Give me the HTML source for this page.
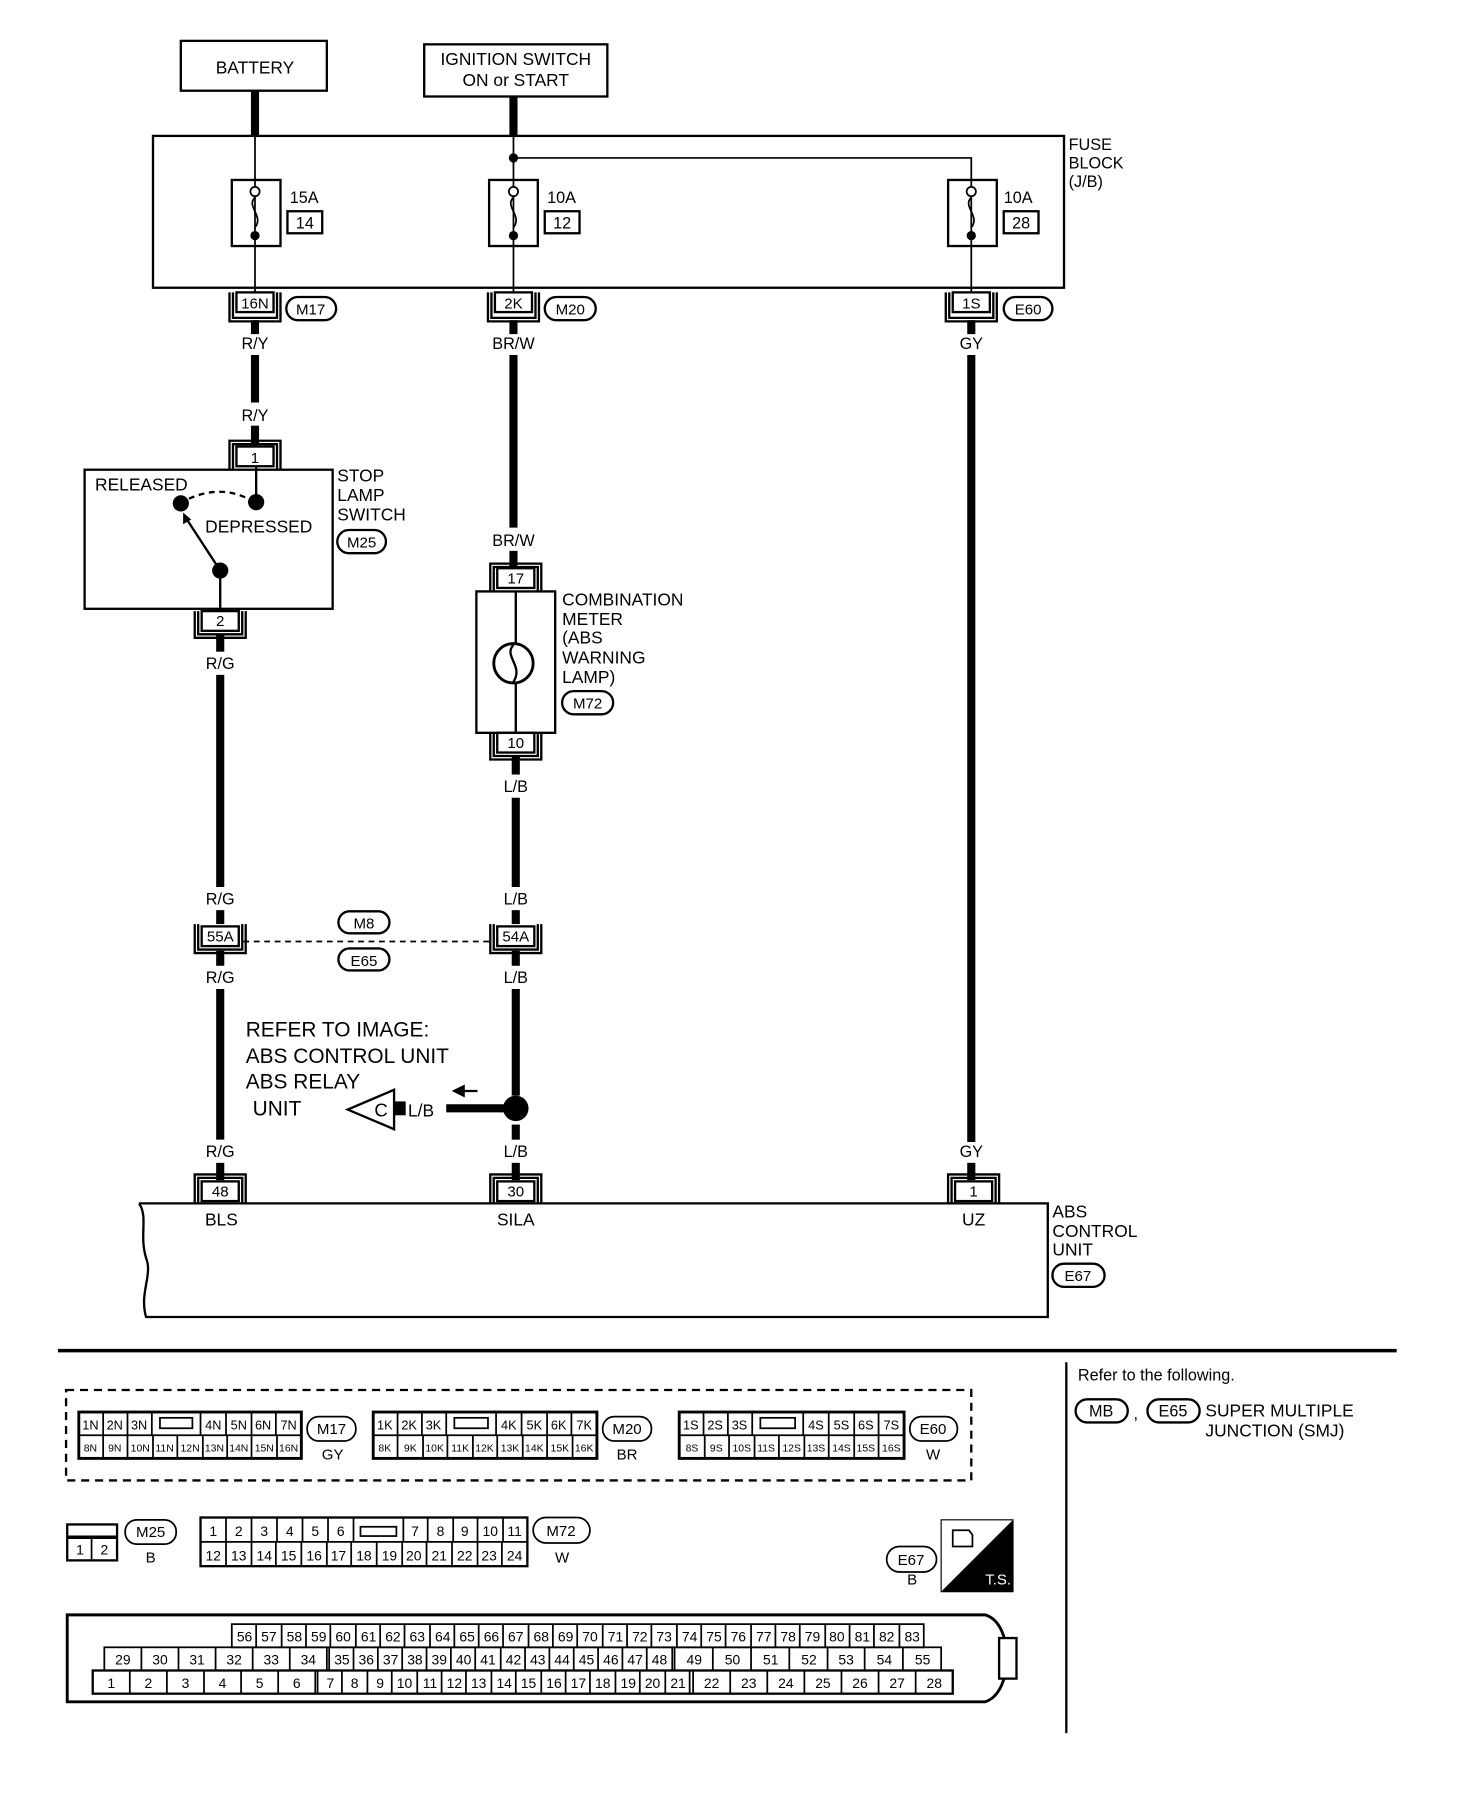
<!DOCTYPE html>
<html><head><meta charset="utf-8"><style>
html,body{margin:0;padding:0;background:#fff}
svg{display:block}
text{font-family:"Liberation Sans",sans-serif;fill:#000}
</style></head><body>
<svg width="1472" height="1818" viewBox="0 0 1270 1568" xmlns="http://www.w3.org/2000/svg">
<g fill="none" stroke="#000" stroke-width="2">
<rect x="156" y="35" width="126" height="43"/>
<rect x="366" y="38" width="158" height="45"/>
<rect x="132" y="117" width="786" height="131"/>
<rect x="200" y="155" width="42" height="57"/>
<rect x="422" y="155" width="42" height="57"/>
<rect x="818" y="155" width="42" height="57"/>
<rect x="248" y="182" width="30" height="19"/>
<rect x="470" y="182" width="30" height="19"/>
<rect x="866" y="182" width="30" height="19"/>
</g>
<g stroke="#000" stroke-width="7">
<line x1="220" y1="78" x2="220" y2="117"/>
<line x1="443" y1="83" x2="443" y2="117"/>
<line x1="220" y1="276" x2="220" y2="288"/><line x1="220" y1="306" x2="220" y2="347"/><line x1="220" y1="367" x2="220" y2="382"/>
<line x1="443" y1="276" x2="443" y2="288"/><line x1="443" y1="306" x2="443" y2="455"/><line x1="443" y1="475" x2="443" y2="490"/>
<line x1="838" y1="276" x2="838" y2="288"/><line x1="838" y1="306" x2="838" y2="985"/><line x1="838" y1="1003" x2="838" y2="1018"/>
<line x1="190" y1="548" x2="190" y2="562"/><line x1="190" y1="582" x2="190" y2="765"/><line x1="190" y1="785" x2="190" y2="797"/>
<line x1="190" y1="820" x2="190" y2="833"/><line x1="190" y1="853" x2="190" y2="983"/><line x1="190" y1="1003" x2="190" y2="1018"/>
<line x1="445" y1="652" x2="445" y2="668"/><line x1="445" y1="688" x2="445" y2="765"/><line x1="445" y1="785" x2="445" y2="797"/>
<line x1="445" y1="820" x2="445" y2="833"/><line x1="445" y1="853" x2="445" y2="945"/><line x1="445" y1="970" x2="445" y2="983"/><line x1="445" y1="1003" x2="445" y2="1018"/>
<line x1="385" y1="956" x2="435" y2="956"/>
</g>
<rect x="340" y="950" width="10" height="12" fill="#000"/>
<circle cx="445" cy="956" r="11" fill="#000"/>
<path d="M392 941 L412 941 M392 941 L400 937 L400 945 Z" stroke="#000" stroke-width="2" fill="#000"/>
<polygon points="300,957 340,940 340,974" fill="#fff" stroke="#000" stroke-width="2"/>
<text x="323" y="963" font-size="16">C</text>
<text x="352" y="963" font-size="15">L/B</text>
<g fill="none" stroke="#000" stroke-width="1.5">
<line x1="220" y1="117" x2="220" y2="252"/>
<line x1="443" y1="117" x2="443" y2="252"/>
<path d="M443 136 H838 V252"/>
<path d="M220 170 C212 178,228 186,220 196 M443 170 C435 178,451 186,443 196 M838 170 C830 178,846 186,838 196"/>
<circle cx="220" cy="165" r="4" fill="#fff"/><circle cx="443" cy="165" r="4" fill="#fff"/><circle cx="838" cy="165" r="4" fill="#fff"/>
</g>
<circle cx="220" cy="203" r="4"/><circle cx="443" cy="203" r="4"/><circle cx="838" cy="203" r="4"/>
<circle cx="443" cy="136" r="4"/>
<g font-size="15" text-anchor="middle">
<text x="220" y="63">BATTERY</text>
<text x="445" y="56">IGNITION SWITCH</text>
<text x="445" y="74">ON or START</text>
</g>
<g font-size="14">
<text x="922" y="129">FUSE</text><text x="922" y="145">BLOCK</text><text x="922" y="161">(J/B)</text>
<text x="250" y="175">15A</text><text x="472" y="175">10A</text><text x="866" y="175">10A</text>
</g>
<g font-size="14" text-anchor="middle">
<text x="263" y="197">14</text><text x="485" y="197">12</text><text x="881" y="197">28</text>
</g>
<!-- connectors under fuse block -->
<g fill="none" stroke="#000" stroke-width="2">
<path d="M198 252 V277 H242 V252 M201 252 V274 H239 V252"/>
<rect x="204" y="252" width="32" height="17"/>
<path d="M421 252 V277 H465 V252 M424 252 V274 H462 V252"/>
<rect x="427" y="252" width="32" height="17"/>
<path d="M816 252 V277 H860 V252 M819 252 V274 H857 V252"/>
<rect x="822" y="252" width="32" height="17"/>
<rect x="247" y="256" width="43" height="20" rx="10"/>
<rect x="470" y="256" width="44" height="20" rx="10"/>
<rect x="866" y="256" width="42" height="20" rx="10"/>
</g>
<g font-size="13" text-anchor="middle">
<text x="220" y="266">16N</text><text x="443" y="266">2K</text><text x="838" y="266">1S</text>
<text x="268" y="271">M17</text><text x="492" y="271">M20</text><text x="887" y="271">E60</text>
</g>
<g font-size="14" text-anchor="middle">
<text x="220" y="301">R/Y</text><text x="443" y="301">BR/W</text><text x="838" y="301">GY</text>
<text x="220" y="363">R/Y</text><text x="443" y="471">BR/W</text>
<text x="190" y="577">R/G</text><text x="445" y="683">L/B</text>
<text x="190" y="780">R/G</text><text x="445" y="780">L/B</text>
<text x="190" y="848">R/G</text><text x="445" y="848">L/B</text>
<text x="190" y="998">R/G</text><text x="445" y="998">L/B</text><text x="838" y="998">GY</text>
</g>
<!-- stop lamp switch -->
<g fill="none" stroke="#000" stroke-width="2">
<rect x="73" y="405" width="214" height="120"/>
<path d="M198 405 V380 H242 V405 M201 405 V383 H239 V405"/>
<rect x="204" y="385" width="32" height="17" fill="#fff"/>
<path d="M168 527 V550 H212 V527 M171 527 V547 H209 V527"/>
<rect x="174" y="527" width="32" height="17" fill="#fff"/>
<line x1="221" y1="402" x2="221" y2="433"/>
<line x1="190" y1="492" x2="190" y2="527"/>
<line x1="190" y1="492" x2="160" y2="446"/>
<path d="M163 430 Q190 418 214 430" stroke-dasharray="5,4"/>
<rect x="291" y="457" width="42" height="20" rx="10"/>
</g>
<polygon points="158,442 158,452 165,448" fill="#000"/>
<circle cx="156" cy="434" r="7"/><circle cx="221" cy="433" r="7"/><circle cx="190" cy="492" r="7"/>
<g font-size="15">
<text x="82" y="423">RELEASED</text><text x="177" y="459">DEPRESSED</text>
<text x="291" y="415">STOP</text><text x="291" y="432">LAMP</text><text x="291" y="449">SWITCH</text>
</g>
<g font-size="13" text-anchor="middle">
<text x="220" y="399">1</text><text x="190" y="540">2</text><text x="312" y="472">M25</text>
</g>
<!-- combination meter -->
<g fill="none" stroke="#000" stroke-width="2">
<rect x="411" y="510" width="68" height="122"/>
<path d="M423 510 V486 H467 V510 M426 510 V489 H464 V510"/>
<rect x="429" y="490" width="32" height="17" fill="#fff"/>
<path d="M423 632 V655 H467 V632 M426 632 V652 H464 V632"/>
<rect x="429" y="632" width="32" height="17" fill="#fff"/>
<line x1="445" y1="510" x2="445" y2="632"/>
<circle cx="443" cy="572" r="17" fill="#fff" stroke-width="2.5"/>
<path d="M443 556 C434 566,452 574,443 588"/>
<rect x="485" y="596" width="44" height="20" rx="10"/>
</g>
<g font-size="15">
<text x="485" y="522">COMBINATION</text><text x="485" y="539">METER</text><text x="485" y="555">(ABS</text><text x="485" y="572">WARNING</text><text x="485" y="589">LAMP)</text>
</g>
<g font-size="13" text-anchor="middle">
<text x="445" y="503">17</text><text x="445" y="645">10</text><text x="507" y="611">M72</text>
</g>
<!-- M8/E65 joint connectors -->
<g fill="none" stroke="#000" stroke-width="2">
<path d="M168 797 V822 H212 V797 M171 797 V819 H209 V797"/>
<rect x="174" y="799" width="32" height="17" fill="#fff"/>
<path d="M423 797 V822 H467 V797 M426 797 V819 H464 V797"/>
<rect x="429" y="799" width="32" height="17" fill="#fff"/>
<line x1="210" y1="812" x2="425" y2="812" stroke-dasharray="5,4" stroke-width="1.5"/>
<rect x="292" y="786" width="44" height="19" rx="9.5"/>
<rect x="292" y="818" width="44" height="19" rx="9.5"/>
</g>
<g font-size="13" text-anchor="middle">
<text x="190" y="812">55A</text><text x="445" y="812">54A</text>
<text x="314" y="801">M8</text><text x="314" y="833">E65</text>
</g>
<g font-size="18">
<text x="212" y="894">REFER TO IMAGE:</text><text x="212" y="917">ABS CONTROL UNIT</text>
<text x="212" y="939">ABS RELAY</text><text x="218" y="962">UNIT</text>
</g>
<!-- ABS unit -->
<g fill="none" stroke="#000" stroke-width="2">
<path d="M120 1038 H904 V1136 H126 C120 1115,132 1100,126 1085 C120 1065,128 1050,120 1038"/>
<path d="M168 1038 V1013 H212 V1038 M171 1038 V1016 H209 V1038"/>
<rect x="174" y="1019" width="32" height="17" fill="#fff"/>
<path d="M423 1038 V1013 H467 V1038 M426 1038 V1016 H464 V1038"/>
<rect x="429" y="1019" width="32" height="17" fill="#fff"/>
<path d="M818 1038 V1013 H862 V1038 M821 1038 V1016 H859 V1038"/>
<rect x="824" y="1019" width="32" height="17" fill="#fff"/>
<rect x="908" y="1090" width="45" height="20" rx="10"/>
</g>
<g font-size="13" text-anchor="middle">
<text x="190" y="1032">48</text><text x="445" y="1032">30</text><text x="840" y="1032">1</text>
<text x="930" y="1105">E67</text>
</g>
<g font-size="15" text-anchor="middle">
<text x="191" y="1057">BLS</text><text x="445" y="1057">SILA</text><text x="840" y="1057">UZ</text>
</g>
<g font-size="15"><text x="908" y="1050">ABS</text><text x="908" y="1067">CONTROL</text><text x="908" y="1083">UNIT</text></g>
<!-- separators -->
<line x1="50" y1="1165" x2="1205" y2="1165" stroke="#000" stroke-width="3"/>
<line x1="920" y1="1175" x2="920" y2="1495" stroke="#000" stroke-width="2"/>
<text x="930" y="1191" font-size="14">Refer to the following.</text>
<g fill="none" stroke="#000" stroke-width="2">
<rect x="928" y="1207" width="45" height="20" rx="10"/><rect x="990" y="1207" width="45" height="20" rx="10"/>
</g>
<g font-size="14" text-anchor="middle"><text x="950" y="1222">MB</text><text x="1012" y="1222">E65</text></g>
<text x="978" y="1224" font-size="14">,</text>
<g font-size="15"><text x="1040" y="1222">SUPER MULTIPLE</text><text x="1040" y="1239">JUNCTION (SMJ)</text></g>
<!-- dashed box -->
<rect x="57" y="1199" width="781" height="78" fill="none" stroke="#000" stroke-width="2" stroke-dasharray="7,5"/>
<g fill="none" stroke="#000" stroke-width="1.5">
<rect x="68" y="1218" width="192" height="40" stroke-width="2.5"/><line x1="68" y1="1238" x2="260" y2="1238"/>
<path d="M89 1218V1238M110 1218V1238M131 1218V1238M173 1218V1238M195 1218V1238M217 1218V1238M238 1218V1238"/>
<path d="M89 1238V1258M110 1238V1258M132 1238V1258M153 1238V1258M175 1238V1258M196 1238V1258M217 1238V1258M239 1238V1258"/>
<rect x="138" y="1223" width="28" height="9"/>
<rect x="322" y="1218" width="193" height="40" stroke-width="2.5"/><line x1="322" y1="1238" x2="515" y2="1238"/>
<path d="M343 1218V1238M364 1218V1238M385 1218V1238M428 1218V1238M450 1218V1238M472 1218V1238M493 1218V1238"/>
<path d="M343 1238V1258M365 1238V1258M386 1238V1258M408 1238V1258M429 1238V1258M451 1238V1258M472 1238V1258M494 1238V1258"/>
<rect x="392" y="1223" width="29" height="9"/>
<rect x="586" y="1218" width="194" height="40" stroke-width="2.5"/><line x1="586" y1="1238" x2="780" y2="1238"/>
<path d="M607 1218V1238M628 1218V1238M649 1218V1238M693 1218V1238M715 1218V1238M737 1218V1238M758 1218V1238"/>
<path d="M608 1238V1258M629 1238V1258M651 1238V1258M672 1238V1258M694 1238V1258M715 1238V1258M737 1238V1258M758 1238V1258"/>
<rect x="656" y="1223" width="30" height="9"/>
<rect x="265" y="1222" width="42" height="21" rx="10"/><rect x="520" y="1222" width="42" height="21" rx="10"/><rect x="785" y="1222" width="41" height="21" rx="10"/>
</g>
<g font-size="11" text-anchor="middle">
<text x="78" y="1233">1N</text><text x="99" y="1233">2N</text><text x="120" y="1233">3N</text><text x="184" y="1233">4N</text><text x="206" y="1233">5N</text><text x="227" y="1233">6N</text><text x="249" y="1233">7N</text>
<text x="332" y="1233">1K</text><text x="353" y="1233">2K</text><text x="374" y="1233">3K</text><text x="439" y="1233">4K</text><text x="461" y="1233">5K</text><text x="482" y="1233">6K</text><text x="504" y="1233">7K</text>
<text x="596" y="1233">1S</text><text x="617" y="1233">2S</text><text x="638" y="1233">3S</text><text x="704" y="1233">4S</text><text x="726" y="1233">5S</text><text x="747" y="1233">6S</text><text x="769" y="1233">7S</text>
</g>
<g font-size="9" text-anchor="middle">
<text x="78" y="1252">8N</text><text x="99" y="1252">9N</text><text x="121" y="1252">10N</text><text x="142" y="1252">11N</text><text x="164" y="1252">12N</text><text x="185" y="1252">13N</text><text x="206" y="1252">14N</text><text x="228" y="1252">15N</text><text x="249" y="1252">16N</text>
<text x="332" y="1252">8K</text><text x="354" y="1252">9K</text><text x="375" y="1252">10K</text><text x="397" y="1252">11K</text><text x="418" y="1252">12K</text><text x="440" y="1252">13K</text><text x="461" y="1252">14K</text><text x="483" y="1252">15K</text><text x="504" y="1252">16K</text>
<text x="597" y="1252">8S</text><text x="618" y="1252">9S</text><text x="640" y="1252">10S</text><text x="661" y="1252">11S</text><text x="683" y="1252">12S</text><text x="704" y="1252">13S</text><text x="726" y="1252">14S</text><text x="747" y="1252">15S</text><text x="769" y="1252">16S</text>
</g>
<g font-size="13" text-anchor="middle">
<text x="286" y="1237">M17</text><text x="541" y="1237">M20</text><text x="805" y="1237">E60</text>
<text x="287" y="1259">GY</text><text x="541" y="1259">BR</text><text x="805" y="1259">W</text>
</g>
<!-- M25, M72 -->
<g fill="none" stroke="#000" stroke-width="1.5">
<rect x="58" y="1315" width="43" height="31" stroke-width="2"/><line x1="58" y1="1326" x2="101" y2="1326" stroke-width="3"/><line x1="79" y1="1326" x2="79" y2="1346"/>
<rect x="108" y="1311" width="44" height="21" rx="10"/>
<rect x="173" y="1309" width="282" height="42" stroke-width="2"/><line x1="173" y1="1330" x2="455" y2="1330"/>
<path d="M195 1309V1330M217 1309V1330M239 1309V1330M261 1309V1330M283 1309V1330M305 1309V1330M348 1309V1330M369 1309V1330M391 1309V1330M412 1309V1330M434 1309V1330"/>
<path d="M195 1330V1351M217 1330V1351M238 1330V1351M260 1330V1351M282 1330V1351M303 1330V1351M325 1330V1351M347 1330V1351M368 1330V1351M390 1330V1351M412 1330V1351M433 1330V1351"/>
<rect x="311" y="1317" width="31" height="8"/>
<rect x="460" y="1309" width="49" height="22" rx="11"/>
<rect x="765" y="1334" width="43" height="22" rx="11"/>
</g>
<g font-size="12" text-anchor="middle">
<text x="69" y="1341">1</text><text x="90" y="1341">2</text>
<text x="184" y="1325">1</text><text x="206" y="1325">2</text><text x="228" y="1325">3</text><text x="250" y="1325">4</text><text x="272" y="1325">5</text><text x="294" y="1325">6</text><text x="358" y="1325">7</text><text x="380" y="1325">8</text><text x="401" y="1325">9</text><text x="423" y="1325">10</text><text x="444" y="1325">11</text>
<text x="184" y="1346">12</text><text x="206" y="1346">13</text><text x="228" y="1346">14</text><text x="249" y="1346">15</text><text x="271" y="1346">16</text><text x="292" y="1346">17</text><text x="314" y="1346">18</text><text x="336" y="1346">19</text><text x="357" y="1346">20</text><text x="379" y="1346">21</text><text x="401" y="1346">22</text><text x="422" y="1346">23</text><text x="444" y="1346">24</text>
</g>
<g font-size="13" text-anchor="middle">
<text x="130" y="1326">M25</text><text x="130" y="1348">B</text>
<text x="484" y="1325">M72</text><text x="485" y="1348">W</text>
<text x="786" y="1350">E67</text><text x="787" y="1367">B</text>
</g>
<!-- T.S. -->
<rect x="812" y="1311" width="62" height="62" fill="#fff" stroke="#000" stroke-width="1"/>
<polygon points="874,1311 874,1373 812,1373" fill="#000"/>
<path d="M822 1320 h14 l3 4 v10 h-17 z" fill="none" stroke="#000" stroke-width="1.5"/>
<text x="850" y="1367" font-size="13" fill="#fff" style="fill:#fff">T.S.</text>
<!-- big connector -->
<path d="M58 1393 H850 C875 1400,875 1460,850 1468 H58 Z" fill="none" stroke="#000" stroke-width="2.5"/>
<rect x="862" y="1413" width="15" height="35" fill="#fff" stroke="#000" stroke-width="2"/>
<g fill="none" stroke="#000" stroke-width="1.5">
<rect x="200" y="1401" width="597" height="20"/>
<rect x="90" y="1421" width="722" height="20"/>
<rect x="80" y="1441" width="742" height="20" stroke-width="2"/>
<path d="M221 1401v20M243 1401v20M264 1401v20M285 1401v20M307 1401v20M328 1401v20M349 1401v20M371 1401v20M392 1401v20M413 1401v20M434 1401v20M456 1401v20M477 1401v20M498 1401v20M520 1401v20M541 1401v20M562 1401v20M584 1401v20M605 1401v20M626 1401v20M648 1401v20M669 1401v20M690 1401v20M712 1401v20M733 1401v20M754 1401v20M776 1401v20"/>
<path d="M122 1421v20M154 1421v20M186 1421v20M218 1421v20M250 1421v20M282 1421v20M284 1421v20M305 1421v20M326 1421v20M347 1421v20M368 1421v20M389 1421v20M410 1421v20M432 1421v20M453 1421v20M474 1421v20M495 1421v20M516 1421v20M537 1421v20M558 1421v20M580 1421v20M582 1421v20M615 1421v20M648 1421v20M681 1421v20M714 1421v20M746 1421v20M779 1421v20"/>
<path d="M112 1441v20M144 1441v20M176 1441v20M208 1441v20M240 1441v20M272 1441v20M274 1441v20M295 1441v20M317 1441v20M338 1441v20M360 1441v20M381 1441v20M402 1441v20M424 1441v20M445 1441v20M467 1441v20M488 1441v20M509 1441v20M531 1441v20M552 1441v20M574 1441v20M595 1441v20M598 1441v20M630 1441v20M662 1441v20M694 1441v20M726 1441v20M758 1441v20M790 1441v20"/>
</g>
<g font-size="12" text-anchor="middle">
<text x="211" y="1416">56</text><text x="232" y="1416">57</text><text x="254" y="1416">58</text><text x="275" y="1416">59</text><text x="296" y="1416">60</text><text x="318" y="1416">61</text><text x="339" y="1416">62</text><text x="360" y="1416">63</text><text x="382" y="1416">64</text><text x="403" y="1416">65</text><text x="424" y="1416">66</text><text x="445" y="1416">67</text><text x="467" y="1416">68</text><text x="488" y="1416">69</text><text x="509" y="1416">70</text><text x="531" y="1416">71</text><text x="552" y="1416">72</text><text x="573" y="1416">73</text><text x="595" y="1416">74</text><text x="616" y="1416">75</text><text x="637" y="1416">76</text><text x="659" y="1416">77</text><text x="680" y="1416">78</text><text x="701" y="1416">79</text><text x="722" y="1416">80</text><text x="744" y="1416">81</text><text x="765" y="1416">82</text><text x="787" y="1416">83</text>
<text x="106" y="1436">29</text><text x="138" y="1436">30</text><text x="170" y="1436">31</text><text x="202" y="1436">32</text><text x="234" y="1436">33</text><text x="266" y="1436">34</text><text x="295" y="1436">35</text><text x="316" y="1436">36</text><text x="337" y="1436">37</text><text x="358" y="1436">38</text><text x="379" y="1436">39</text><text x="400" y="1436">40</text><text x="421" y="1436">41</text><text x="443" y="1436">42</text><text x="464" y="1436">43</text><text x="485" y="1436">44</text><text x="506" y="1436">45</text><text x="527" y="1436">46</text><text x="548" y="1436">47</text><text x="569" y="1436">48</text><text x="599" y="1436">49</text><text x="632" y="1436">50</text><text x="665" y="1436">51</text><text x="698" y="1436">52</text><text x="730" y="1436">53</text><text x="763" y="1436">54</text><text x="796" y="1436">55</text>
<text x="96" y="1456">1</text><text x="128" y="1456">2</text><text x="160" y="1456">3</text><text x="192" y="1456">4</text><text x="224" y="1456">5</text><text x="256" y="1456">6</text><text x="285" y="1456">7</text><text x="306" y="1456">8</text><text x="328" y="1456">9</text><text x="349" y="1456">10</text><text x="371" y="1456">11</text><text x="392" y="1456">12</text><text x="413" y="1456">13</text><text x="435" y="1456">14</text><text x="456" y="1456">15</text><text x="478" y="1456">16</text><text x="499" y="1456">17</text><text x="520" y="1456">18</text><text x="542" y="1456">19</text><text x="563" y="1456">20</text><text x="585" y="1456">21</text><text x="614" y="1456">22</text><text x="646" y="1456">23</text><text x="678" y="1456">24</text><text x="710" y="1456">25</text><text x="742" y="1456">26</text><text x="774" y="1456">27</text><text x="806" y="1456">28</text>
</g>
</svg>
</body></html>
